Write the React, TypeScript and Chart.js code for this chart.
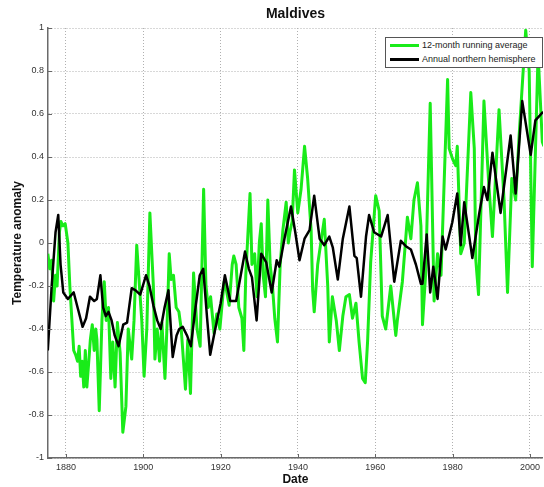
import React, { useEffect, useRef } from "react";
import { Chart, registerables } from "chart.js";

Chart.register(...registerables);

const chartTitle = "Maldives";
const xTitle = "Date";
const yTitle = "Temperature anomaly";
const legendLabels = ["12-month running average", "Annual northern hemisphere"];

const xTicks = [1880, 1900, 1920, 1940, 1960, 1980, 2000];
const yTicks = [-1, -0.8, -0.6, -0.4, -0.2, 0, 0.2, 0.4, 0.6, 0.8, 1];
const xMin = 1875.35;
const xMax = 2003.35;

const greenYears = [
  1875.3, 1875.8, 1876.3, 1876.8, 1877.3, 1877.7, 1878.3, 1878.7, 1879.2, 1879.8,
  1880.5, 1881.0, 1881.5, 1882.0, 1882.5, 1883.0, 1883.4, 1883.8, 1884.2, 1884.6,
  1885.0, 1885.4, 1885.9, 1886.3, 1886.8, 1887.3, 1887.7, 1888.0, 1888.6, 1889.3,
  1889.9, 1890.4, 1891.0, 1891.6, 1892.1, 1892.7, 1893.3, 1894.0, 1894.7, 1895.5,
  1896.1, 1897.0, 1897.6, 1898.3, 1899.0, 1899.6, 1900.2, 1900.9, 1901.7, 1902.2,
  1902.6, 1903.0, 1903.6, 1904.2, 1904.8, 1905.6, 1906.2, 1906.7, 1907.2, 1907.8,
  1908.5, 1909.2, 1909.8, 1910.4, 1910.9, 1911.5, 1912.2, 1913.0, 1913.9, 1914.7,
  1915.6, 1916.2, 1916.8, 1917.4, 1918.3, 1919.0, 1919.8, 1920.9, 1921.5, 1922.2,
  1923.0, 1923.4, 1924.0, 1924.7, 1925.5, 1926.0, 1926.5, 1927.6, 1928.1, 1928.8,
  1929.4, 1930.0, 1930.5, 1931.0, 1931.6, 1932.2, 1932.8, 1933.4, 1934.0, 1934.7,
  1935.4, 1936.1, 1936.95, 1937.5, 1937.9, 1938.5, 1939.1, 1939.95, 1940.8, 1941.7,
  1942.5, 1943.4, 1943.8, 1944.2, 1945.1, 1945.9, 1946.8, 1947.7, 1948.1, 1948.9,
  1949.9, 1950.7, 1951.6, 1952.4, 1953.3, 1954.1, 1955.0, 1955.8, 1956.7, 1957.4,
  1958.0, 1958.8, 1960.1, 1961.0, 1961.8, 1962.7, 1964.0, 1965.3, 1965.7, 1967.0,
  1968.3, 1969.2, 1970.0, 1970.9, 1971.8, 1972.2, 1973.0, 1974.2, 1974.8, 1975.2,
  1976.1, 1977.0, 1978.7, 1979.1, 1980.0, 1980.8, 1981.2, 1982.1, 1983.0, 1984.7,
  1985.6, 1986.0, 1986.7, 1988.1, 1989.4, 1990.3, 1992.0, 1993.3, 1994.2, 1995.3,
  1996.3, 1997.2, 1998.9, 1999.8, 2000.6, 2002.1, 2003.2, 2003.6,
];
const greenValues = [
  -0.05, -0.12, -0.08, -0.27, -0.15, -0.2, 0.05, 0.1, 0.08, 0.09,
  0.0, -0.2, -0.35, -0.5, -0.52, -0.55, -0.48, -0.62, -0.55, -0.67,
  -0.5, -0.67, -0.55, -0.45, -0.38, -0.5, -0.4, -0.45, -0.78, -0.36,
  -0.18, -0.36, -0.3, -0.63, -0.46, -0.67, -0.37, -0.51, -0.88, -0.76,
  -0.4, -0.54, -0.36, -0.01, -0.2, -0.36, -0.62, -0.4, 0.14, -0.05,
  -0.2, -0.54, -0.4, -0.55, -0.37, -0.63, -0.35, -0.05, -0.17, -0.15,
  -0.3, -0.32, -0.4, -0.55, -0.68, -0.45, -0.7, -0.14, -0.4, -0.48,
  0.25, -0.2, -0.3, -0.25, -0.42, -0.33, -0.4, -0.18, -0.22, -0.29,
  -0.1, -0.06, -0.1, -0.3, -0.35, -0.5, -0.15, 0.23, -0.1, -0.05,
  -0.25, 0.0, 0.09, -0.15, -0.25, 0.2, -0.1, -0.2, -0.35, -0.46,
  -0.1, 0.06, 0.19, 0.0, 0.05, 0.1, 0.34, 0.14, 0.25, 0.45,
  0.3, 0.06, -0.22, -0.32, -0.1, 0.0, 0.11, -0.2, -0.46, -0.25,
  -0.36, -0.5, -0.34, -0.25, -0.24, -0.35, -0.28, -0.46, -0.63, -0.65,
  -0.46, -0.09, 0.22, 0.15, -0.34, -0.4, -0.2, -0.43, -0.36, -0.18,
  0.12, 0.02, 0.2, 0.28, 0.08, -0.38, -0.15, 0.65, 0.1, -0.27,
  -0.05, -0.15, 0.76, 0.44, 0.39, 0.36, 0.45, -0.05, 0.0, 0.7,
  0.44, -0.08, -0.24, 0.66, 0.26, 0.03, 0.62, 0.2, -0.23, 0.3,
  0.2, 0.5, 0.99, 0.8, -0.11, 0.88, 0.47, 0.45,
];

const blackYears = [
  1875.3, 1876.3, 1877.3, 1878.0, 1878.6, 1879.3, 1880.5, 1881.0, 1882.0, 1883.0,
  1884.3, 1885.2, 1886.2, 1887.3, 1888.0, 1888.9, 1889.6, 1890.3, 1891.0, 1891.8,
  1892.6, 1893.6, 1894.8, 1895.8, 1897.0, 1898.0, 1899.2, 1900.7, 1901.6, 1902.6,
  1903.6, 1904.5, 1905.5, 1906.5, 1907.6, 1908.6, 1909.3, 1910.2, 1911.3, 1912.3,
  1913.5, 1914.6, 1915.5, 1916.5, 1917.3, 1918.6, 1920.0, 1921.1, 1922.5, 1924.0,
  1925.2, 1926.3, 1927.3, 1928.1, 1929.3, 1930.5, 1931.8, 1933.2, 1934.5, 1935.2,
  1936.5, 1938.2, 1939.3, 1940.4, 1941.7, 1943.0, 1944.2, 1945.6, 1946.8, 1948.1,
  1949.0, 1950.3, 1951.6, 1953.3, 1954.6, 1955.2, 1956.3, 1957.6, 1958.4, 1959.7,
  1961.5, 1963.2, 1964.9, 1966.6, 1967.9, 1969.2, 1970.5, 1971.8, 1972.2, 1973.3,
  1974.2, 1975.0, 1976.1, 1977.4, 1978.2, 1979.9, 1981.2, 1982.1, 1983.0, 1985.1,
  1986.9, 1988.1, 1989.0, 1990.3, 1992.4, 1995.0, 1996.3, 1998.0, 2000.2, 2001.4,
  2003.4,
];
const blackValues = [
  -0.5, -0.2, 0.05, 0.13, -0.1, -0.23, -0.26, -0.25, -0.23, -0.3,
  -0.39, -0.35, -0.25, -0.27, -0.26, -0.15, -0.3, -0.34, -0.32, -0.36,
  -0.43, -0.48, -0.38, -0.37, -0.21, -0.22, -0.24, -0.15, -0.2, -0.29,
  -0.36, -0.4, -0.3, -0.22, -0.53, -0.43, -0.4, -0.39, -0.43, -0.48,
  -0.3, -0.15, -0.12, -0.35, -0.52, -0.4, -0.28, -0.15, -0.27, -0.27,
  -0.15, -0.04, -0.12, -0.16, -0.36, -0.05, -0.09, -0.23, -0.08, -0.11,
  0.02, 0.17, 0.05, -0.08, 0.02, 0.06, 0.22, 0.02, -0.01, 0.03,
  -0.02, -0.17, 0.02, 0.17, -0.06, -0.07, -0.25, 0.03, 0.13, 0.05,
  0.03, 0.13, -0.18, 0.01, -0.015, -0.03, -0.1, -0.19, -0.19, 0.04,
  -0.23, -0.11, -0.26, 0.03, -0.03, 0.095, 0.23, -0.01, 0.19, -0.07,
  0.14, 0.26, 0.2, 0.42, 0.14, 0.5, 0.23, 0.66, 0.41, 0.57,
  0.61,
];

const GREEN = "rgb(25, 235, 25)";
const FONT = "'Liberation Sans', Arial, Helvetica, sans-serif";

const innerTicks = {
  id: "innerTicks",
  afterDatasetsDraw(chart: any) {
    const { ctx, chartArea, scales } = chart;
    ctx.save();
    ctx.strokeStyle = "#666";
    ctx.lineWidth = 1;
    ctx.beginPath();
    for (const v of yTicks) {
      const y = Math.round(scales.y.getPixelForValue(v)) + 0.5;
      ctx.moveTo(chartArea.left, y);
      ctx.lineTo(chartArea.left + 4, y);
    }
    for (const v of xTicks) {
      const x = Math.round(scales.x.getPixelForValue(v)) + 0.5;
      ctx.moveTo(x, chartArea.bottom);
      ctx.lineTo(x, chartArea.bottom - 4);
    }
    ctx.stroke();
    ctx.restore();
  },
};

export default function App() {
  const ref = useRef<HTMLCanvasElement | null>(null);

  useEffect(() => {
    document.body.style.margin = "0";
    const canvas = ref.current;
    if (!canvas) return;
    const chart = new Chart(canvas, {
      type: "line",
      data: {
        datasets: [
          {
            label: legendLabels[1],
            data: blackYears.map((x, i) => ({ x, y: blackValues[i] })),
            borderColor: "#000",
            borderWidth: 2.5,
            pointRadius: 0,
            tension: 0,
            borderJoinStyle: "round",
          },
          {
            label: legendLabels[0],
            data: greenYears.map((x, i) => ({ x, y: greenValues[i] })),
            borderColor: GREEN,
            borderWidth: 3,
            pointRadius: 0,
            tension: 0,
            borderJoinStyle: "round",
          },
        ],
      },
      options: {
        responsive: false,
        animation: false,
        events: [],
        layout: { padding: 0 },
        plugins: {
          legend: { display: false },
          tooltip: { enabled: false },
          title: {
            display: true,
            text: chartTitle,
            fullSize: false,
            color: "#111",
            font: { family: FONT, size: 14, weight: "bold", lineHeight: 1.2 },
            padding: { top: 5.6, bottom: 5.6 },
          },
        },
        scales: {
          x: {
            type: "linear",
            min: xMin,
            max: xMax,
            afterBuildTicks: (scale: any) => {
              scale.ticks = xTicks.map((v) => ({ value: v }));
            },
            afterFit: (scale: any) => {
              scale.height = 29;
            },
            ticks: {
              autoSkip: false,
              maxRotation: 0,
              padding: 4,
              color: "#333",
              font: { family: FONT, size: 9 },
              callback: (v: any) => String(v),
            },
            grid: {
              color: "#b0b0b0",
              lineWidth: 1,
              drawTicks: false,
            },
            border: { display: true, color: "#6a6a6a", width: 1.5, dash: [1, 2] },
            title: {
              display: true,
              text: xTitle,
              color: "#111",
              font: { family: FONT, size: 12, weight: "bold", lineHeight: 1.2 },
              padding: { top: 0, bottom: 0 },
            },
          },
          y: {
            type: "linear",
            min: -1,
            max: 1,
            afterBuildTicks: (scale: any) => {
              scale.ticks = yTicks.map((v) => ({ value: v }));
            },
            afterFit: (scale: any) => {
              scale.width = 48;
            },
            ticks: {
              autoSkip: false,
              padding: 4,
              color: "#333",
              font: { family: FONT, size: 9 },
              callback: (v: any) => String(Math.round(Number(v) * 10) / 10),
            },
            grid: {
              color: "#b0b0b0",
              lineWidth: 1,
              drawTicks: false,
            },
            border: { display: true, color: "#6a6a6a", width: 1.5, dash: [1, 2] },
            title: {
              display: true,
              text: yTitle,
              color: "#111",
              font: { family: FONT, size: 12, weight: "bold", lineHeight: 1.2 },
              padding: { top: 10, bottom: 0 },
            },
          },
        },
      },
      plugins: [innerTicks],
    } as any);
    return () => chart.destroy();
  }, []);

  return (
    <div style={{ position: "fixed", left: 0, top: 0, width: 544, height: 487, background: "#fff" }}>
      <canvas ref={ref} width={544} height={487} style={{ width: 544, height: 487, display: "block" }} />
      <div
        style={{
          position: "absolute",
          left: 385,
          top: 37,
          width: 156,
          height: 29,
          border: "1px solid #555",
          background: "#fff",
          fontFamily: FONT,
          fontSize: 9,
          color: "#222",
        }}
      >
        <div style={{ position: "absolute", left: 4, top: 6, width: 29, height: 3, background: GREEN }} />
        <div style={{ position: "absolute", left: 36, top: 2, lineHeight: "11px", whiteSpace: "nowrap" }}>{legendLabels[0]}</div>
        <div style={{ position: "absolute", left: 4, top: 20, width: 29, height: 3, background: "#000" }} />
        <div style={{ position: "absolute", left: 36, top: 16, lineHeight: "11px", whiteSpace: "nowrap" }}>{legendLabels[1]}</div>
      </div>
    </div>
  );
}
